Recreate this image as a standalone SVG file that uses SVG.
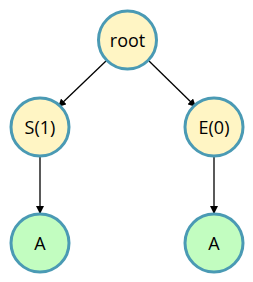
<svg xmlns="http://www.w3.org/2000/svg" width="253" height="282" viewBox="0 0 253 282">
<style>
.n circle{stroke:#4a9ab4;stroke-width:3}
.y{fill:#fff5c4}
.g{fill:#c2fdc0}
text{font-family:"Open Sans","Noto Sans",sans-serif;font-size:18px;fill:#000;text-anchor:middle;dominant-baseline:central}
.e line{stroke:#000;stroke-width:1.3;marker-end:url(#ah)}
</style>
<defs>
<marker id="ah" viewBox="0 0 10 10" refX="10" refY="5" markerWidth="8" markerHeight="8" markerUnits="userSpaceOnUse" orient="auto">
<path d="M0,0L10,5L0,10z" fill="#000"/>
</marker>
</defs>
<g class="e">
<line x1="106" y1="61" x2="58" y2="107"/>
<line x1="149" y1="61" x2="196" y2="107"/>
<line x1="40" y1="157" x2="40" y2="214"/>
<line x1="214" y1="157" x2="214" y2="214"/>
</g>
<g id="root" class="n"><circle class="y" cx="127.5" cy="40" r="29"/><text x="127.5" y="40">root</text></g>
<g id="s1" class="n"><circle class="y" cx="40" cy="127" r="29"/><text x="40" y="127">S(1)</text></g>
<g id="e0" class="n"><circle class="y" cx="214" cy="127" r="29"/><text x="214" y="127">E(0)</text></g>
<g id="a1" class="n"><circle class="g" cx="40" cy="243" r="29"/><text x="40" y="243">A</text></g>
<g id="a2" class="n"><circle class="g" cx="214" cy="243" r="29"/><text x="214" y="243">A</text></g>
</svg>
